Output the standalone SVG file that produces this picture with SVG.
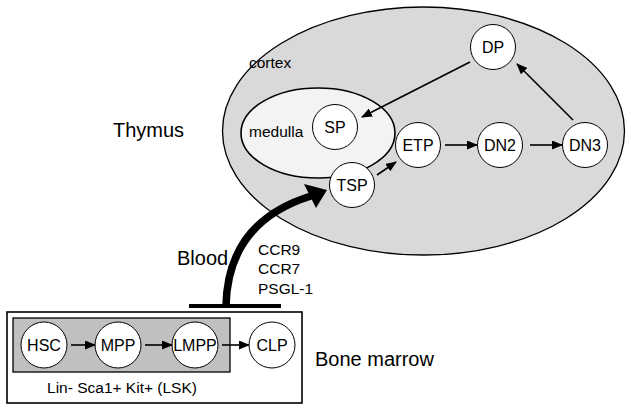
<svg xmlns="http://www.w3.org/2000/svg" width="631" height="409" viewBox="0 0 631 409">
<defs>
<style>
text{font-family:"Liberation Sans",Arial,sans-serif;fill:#000}
.n{font-size:16px;text-anchor:middle}
.big{font-size:20px}
.sm{font-size:15.5px}
.node circle{fill:#fff;stroke:#000;stroke-width:1}
.ln{stroke:#000;stroke-width:1.6;fill:none;marker-end:url(#ah)}
</style>
<marker id="ah" markerUnits="userSpaceOnUse" markerWidth="11" markerHeight="9" refX="10" refY="4.5" orient="auto">
<path d="M0,0 L11,4.5 L0,9 z" fill="#000"/>
</marker>
</defs>
<rect width="631" height="409" fill="#fff"/>
<g id="thymus">
<ellipse cx="423.5" cy="131" rx="201" ry="124" fill="#d9d9d9" stroke="#000" stroke-width="1.3"/>
<ellipse cx="318" cy="133" rx="77" ry="45" fill="#f3f3f3" stroke="#000" stroke-width="1.6"/>
<text class="sm" x="249" y="68">cortex</text>
<text class="sm" x="249" y="137">medulla</text>
<text class="big" x="113" y="137">Thymus</text>
</g>
<g id="bonemarrow">
<rect x="7" y="312" width="295" height="91" fill="#fff" stroke="#000" stroke-width="1.6"/>
<rect x="13" y="318" width="217" height="54" fill="#c0c0c0" stroke="#000" stroke-width="1.3"/>
<text class="sm" x="122" y="393" text-anchor="middle">Lin- Sca1+ Kit+ (LSK)</text>
<text class="big" x="315" y="366">Bone marrow</text>
</g>
<g id="HSC" class="node"><circle cx="44" cy="345" r="23"/><text class="n" x="44" y="351">HSC</text></g>
<g id="MPP" class="node"><circle cx="118" cy="345" r="23"/><text class="n" x="118" y="351">MPP</text></g>
<g id="LMPP" class="node"><circle cx="195" cy="345" r="23"/><text class="n" x="195" y="351">LMPP</text></g>
<g id="CLP" class="node"><circle cx="272" cy="345" r="23"/><text class="n" x="272" y="351">CLP</text></g>
<g id="DP" class="node"><circle cx="493" cy="47" r="22.5"/><text class="n" x="493" y="53">DP</text></g>
<g id="SP" class="node"><circle cx="335" cy="127" r="22.5"/><text class="n" x="335" y="133">SP</text></g>
<g id="ETP" class="node"><circle cx="418" cy="145" r="22.5"/><text class="n" x="418" y="151">ETP</text></g>
<g id="DN2" class="node"><circle cx="500" cy="145" r="22.5"/><text class="n" x="500" y="151">DN2</text></g>
<g id="DN3" class="node"><circle cx="585" cy="145" r="22.5"/><text class="n" x="585" y="151">DN3</text></g>
<g id="TSP" class="node"><circle cx="352" cy="185" r="22.5"/><text class="n" x="352" y="191">TSP</text></g>
<g id="connectors">
<line class="ln" x1="71" y1="345" x2="95" y2="345"/>
<line class="ln" x1="145" y1="345" x2="172" y2="345"/>
<line class="ln" x1="222" y1="345" x2="249" y2="345"/>
<line class="ln" x1="470" y1="62" x2="362" y2="117"/>
<line class="ln" x1="573" y1="120" x2="517" y2="64"/>
<line class="ln" x1="445" y1="145" x2="477" y2="145"/>
<line class="ln" x1="530" y1="145" x2="562" y2="145"/>
<line class="ln" x1="377" y1="175" x2="396" y2="162"/>
<line x1="189" y1="306" x2="281" y2="306" stroke="#000" stroke-width="4"/>
<path d="M226,306 C227,255 250,215 311,196" fill="none" stroke="#000" stroke-width="7.5"/>
<polygon points="327,190 304,184 316,208" fill="#000"/>
<text class="big" x="177" y="265">Blood</text>
<text class="sm" x="258" y="255">CCR9</text>
<text class="sm" x="258" y="274">CCR7</text>
<text class="sm" x="258" y="294">PSGL-1</text>
</g>
</svg>
